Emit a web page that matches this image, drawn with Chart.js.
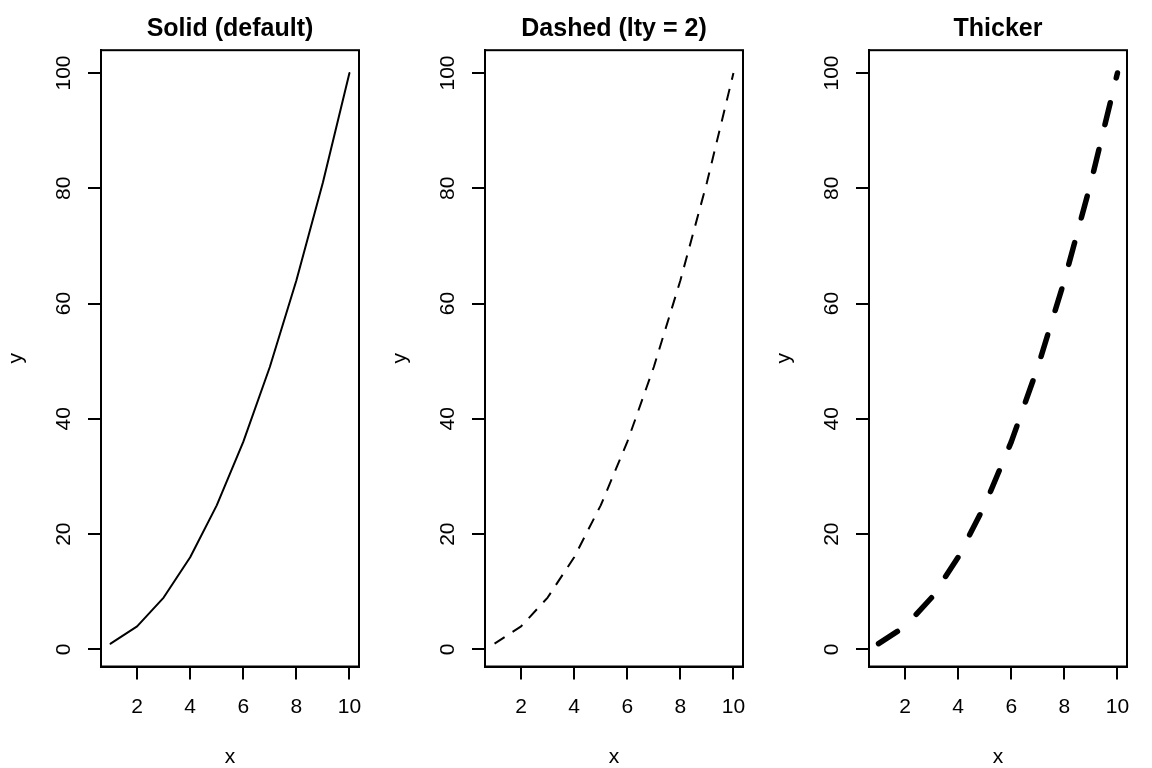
<!DOCTYPE html>
<html><head><meta charset="utf-8">
<script src="https://cdn.jsdelivr.net/npm/chart.js@4.4.1/dist/chart.umd.min.js"></script>
<style>
html,body{margin:0;padding:0;background:#fff;}
#wrap{position:relative;width:1152px;height:768px;background:#fff;}
.p{position:absolute;top:0;width:384px;height:768px;}
canvas{display:block;}
</style></head><body>
<div id="wrap">
<div class="p" style="left:0"><canvas id="c0" width="384" height="768"></canvas></div>
<div class="p" style="left:384px"><canvas id="c1" width="384" height="768"></canvas></div>
<div class="p" style="left:768px"><canvas id="c2" width="384" height="768"></canvas></div>
</div>
<script>
// ---- data ----
const xValues = [1, 2, 3, 4, 5, 6, 7, 8, 9, 10];
const yValues = [1, 4, 9, 16, 25, 36, 49, 64, 81, 100];
const xTicks = [2, 4, 6, 8, 10];
const yTicks = [0, 20, 40, 60, 80, 100];
const panelTitles = ['Solid (default)', 'Dashed (lty = 2)', 'Thicker'];
const xTitle = 'x';
const yTitle = 'y';

// ---- styles ----
const lineStyles = [
  {width: 2, dash: [], cap: 'round'},
  {width: 2, dash: [12, 9.5], cap: 'butt'},
  {width: 5.5, dash: [22.5, 25.6], cap: 'round'}
];
const FAMILY = '"Liberation Sans", Arial, Helvetica, sans-serif';

function padRange(arr) {
  const lo = Math.min(...arr), hi = Math.max(...arr);
  const d = (hi - lo) * 0.04;
  return [lo - d, hi + d];
}
const [xMin, xMax] = padRange(xValues);
const [yMin, yMax] = padRange(yValues);

const boxPlugin = {
  id: 'box',
  afterDraw(chart) {
    const a = chart.chartArea, ctx = chart.ctx;
    ctx.save();
    ctx.strokeStyle = '#000';
    ctx.lineWidth = 2;
    ctx.strokeRect(a.left, a.top, a.right - a.left, a.bottom - a.top);
    ctx.restore();
  }
};

const gridOpts = {drawOnChartArea: false, drawTicks: true, tickLength: 13, lineWidth: 2, tickWidth: 2, color: '#000', tickColor: '#000'};
const borderOpts = {display: true, color: '#000', width: 2};

panelTitles.forEach((t, i) => {
  const st = lineStyles[i];
  new Chart(document.getElementById('c' + i), {
    type: 'line',
    data: {
      datasets: [{
        data: xValues.map((x, k) => ({x: x, y: yValues[k]})),
        borderColor: '#000',
        borderWidth: st.width,
        borderDash: st.dash,
        borderCapStyle: st.cap,
        borderJoinStyle: 'round',
        pointRadius: 0,
        tension: 0,
        fill: false
      }]
    },
    options: {
      responsive: false,
      animation: false,
      devicePixelRatio: 1,
      layout: {padding: {top: 0, left: 0, right: 25, bottom: 0}},
      plugins: {
        legend: {display: false},
        tooltip: {enabled: false},
        title: {
          display: true, text: t, fullSize: false, color: '#000',
          font: {family: FAMILY, size: 25, weight: 'bold'},
          padding: {top: 14.3, bottom: 5.9}
        }
      },
      scales: {
        x: {
          type: 'linear', min: xMin, max: xMax,
          afterBuildTicks: s => { s.ticks = xTicks.map(v => ({value: v})); },
          afterFit: s => { s.height = 101.5; },
          grid: gridOpts, border: borderOpts,
          ticks: {autoSkip: false, minRotation: 0, maxRotation: 0, padding: 15, color: '#000', font: {family: FAMILY, size: 21}},
          title: {display: true, text: xTitle, color: '#000', font: {family: FAMILY, size: 21, lineHeight: 1}, padding: {top: 0, bottom: 0}}
        },
        y: {
          type: 'linear', min: yMin, max: yMax,
          afterBuildTicks: s => { s.ticks = yTicks.map(v => ({value: v})); },
          afterFit: s => { s.width = 101; },
          grid: gridOpts, border: borderOpts,
          ticks: {autoSkip: false, minRotation: 90, maxRotation: 90, crossAlign: 'center', padding: 6, color: '#000', font: {family: FAMILY, size: 21}},
          title: {display: true, text: yTitle, color: '#000', font: {family: FAMILY, size: 21}, padding: {top: 4, bottom: 0}}
        }
      }
    },
    plugins: [boxPlugin]
  });
});
</script>
</body></html>
